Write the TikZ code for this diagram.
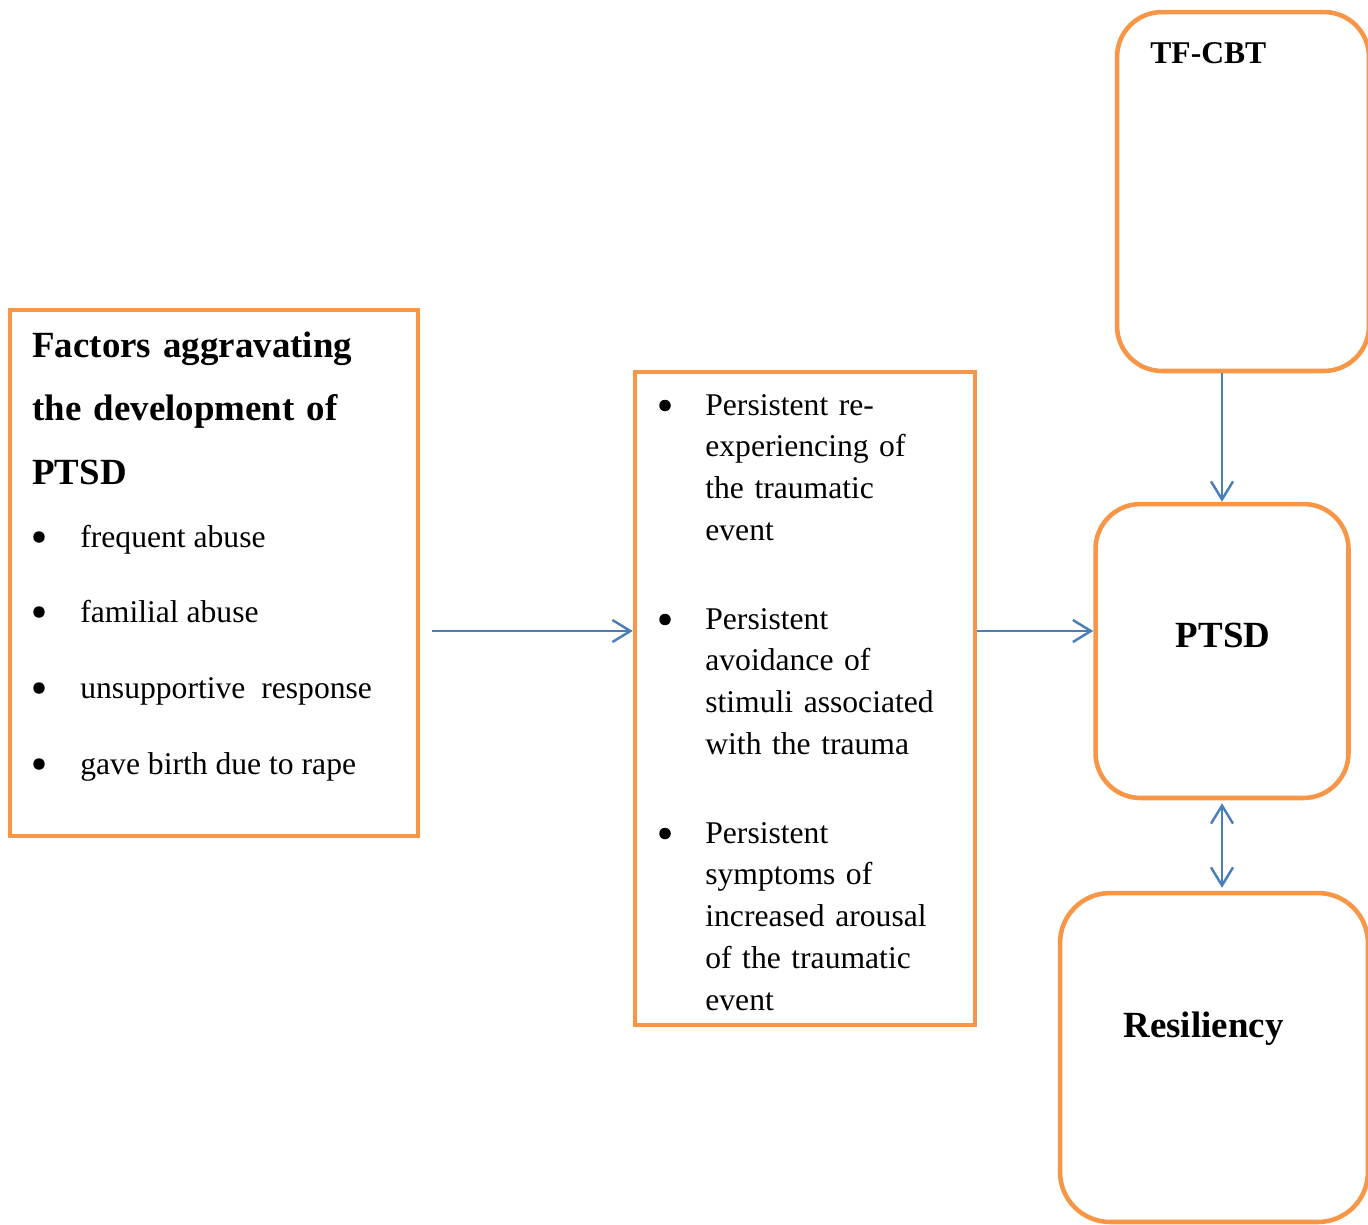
\documentclass[tikz,border=0pt]{standalone}
\usepackage{fontspec}
\setmainfont{Liberation Serif}
\usetikzlibrary{arrows.meta}
\definecolor{boxorange}{HTML}{F79646}
\definecolor{linkblue}{HTML}{4A7EBB}
\tikzset{
    framebox/.style={draw=boxorange, line width=2.6pt, inner sep=0pt},
    roundbox/.style={framebox, rounded corners=0.9cm},
    barb/.tip={Straight Barb[length=3.6mm, width=4.4mm]},
    link/.style={draw=linkblue, line width=1.4pt},
    dot/.style={circle, fill=black, inner sep=0pt, minimum size=0.23cm},
    bodytext/.style={font=\fontsize{18}{23.8}\selectfont, inner sep=0pt, anchor=base west},
    headtext/.style={font=\fontsize{21}{36.3}\selectfont\bfseries, inner sep=0pt}
}
\begin{document}
\begin{tikzpicture}[x=0.02cm, y=-0.02cm]
        \useasboundingbox (0,0) rectangle (1368,1224);
        % PTSD factors, symptoms and outcomes
        \node[framebox, minimum width=8.16cm, minimum height=10.52cm] (factors) at (214,573) {};
        \node[framebox, minimum width=6.8cm, minimum height=13.06cm] (symptoms) at (805,698.5) {};
        \node[roundbox, minimum width=5.04cm, minimum height=7.18cm] (tfcbt) at (1243,191.5) {};
        \node[roundbox, minimum width=5.06cm, minimum height=5.88cm] (ptsd) at (1222,651) {};
        \node[roundbox, rounded corners=1cm, minimum width=6.16cm, minimum height=6.58cm] (resil) at (1214,1057.5) {};

        \node[headtext, anchor=base west, text width=7.6cm, align=left] (facthead) at (32,357)
            {Factors aggravating\\the development of\\PTSD};
        \foreach \y/\txt [count=\i] in {
            547/frequent abuse,
            622/familial abuse,
            698/unsupportive\ \ response,
            774/gave birth due to rape
        } {
            \node[dot] (fdot\i) at (39,{\y-10}) {};
            \node[bodytext] (fitem\i) at (80,\y) {\txt};
        }
        \foreach \y/\txt [count=\i] in {
            415/{Persistent re-\\experiencing of\\the traumatic\\event},
            629/{Persistent\\avoidance of\\stimuli associated\\with the trauma},
            843/{Persistent\\symptoms of\\increased arousal\\of the traumatic\\event}
        } {
            \node[dot] (sdot\i) at (665,{\y-9.5}) {};
            \node[bodytext, text width=5.2cm, align=left] (sitem\i) at (705,\y) {\txt};
        }

        \node[headtext, font=\fontsize{18}{22}\selectfont\bfseries, anchor=base west] (tfcbtlabel) at (1150,63) {TF-CBT};
        \node[headtext, anchor=base] (ptsdlabel) at (1223,647) {PTSD};
        \node[headtext, anchor=base] (resillabel) at (1203.5,1037) {Resiliency};

        \coordinate (row) at (0,631);
        \draw[link, -barb, shorten <=0.24cm] (factors.east |- row) -- (symptoms.west |- row);
        \draw[link, -barb] (symptoms.east |- row) -- (ptsd.west |- row);
        \draw[link, -barb] (tfcbt.south -| ptsd.north) -- (ptsd.north);
        \draw[link, barb-barb, shorten <=0.06cm, shorten >=0.06cm] (ptsd.south) -- (resil.north -| ptsd.south);
    \end{tikzpicture}
\end{document}
